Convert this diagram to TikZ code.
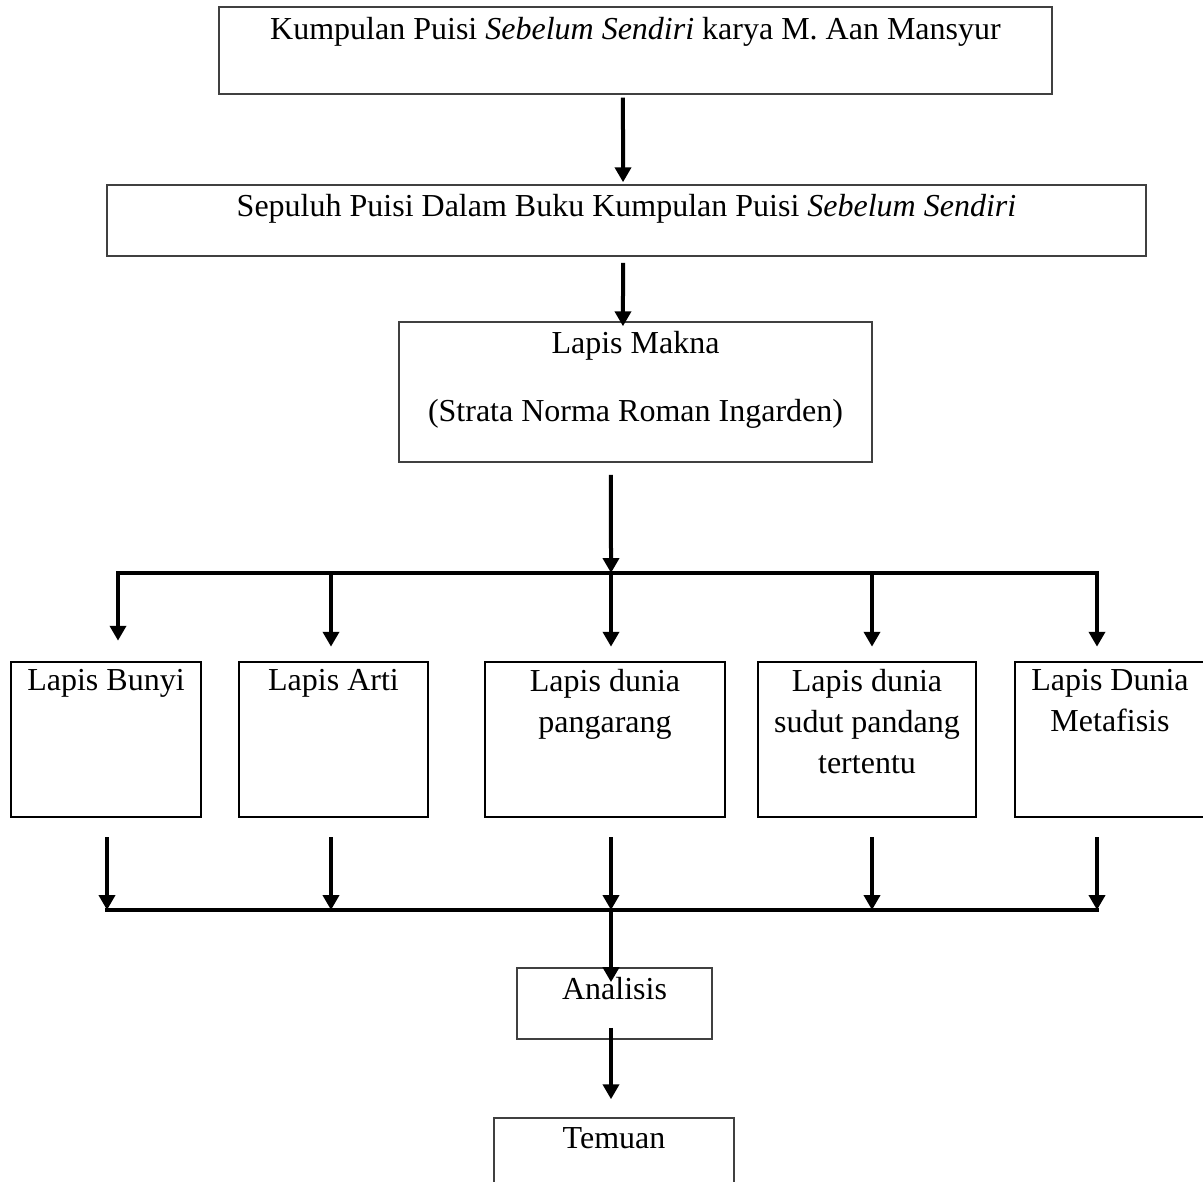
\documentclass[tikz,border=0pt]{standalone}
\usepackage{fontspec}
\setmainfont{Liberation Serif}
\usepackage{tikz}
\usetikzlibrary{arrows.meta,positioning}
\tikzstyle{box}=[rectangle,draw=black!75,line width=0.6pt,inner sep=0pt]
\tikzstyle{layer}=[rectangle,draw=black,line width=1pt,inner sep=0pt]
\tikzstyle{txt}=[inner sep=0pt,align=center,font=\fontsize{12pt}{15.4pt}\selectfont]
\tikzstyle{arr}=[->,line width=1.5pt]
\tikzstyle{bus}=[line width=1.5pt,line cap=rect]

\begin{document}
\begin{tikzpicture}[x=0.375pt,y=-0.375pt,>={Triangle[width=6pt,length=5.6pt]}]
    \useasboundingbox (0,0) rectangle (1203,1182);

    \node[box, minimum width=312.4pt, minimum height=32.6pt] (A) at (635.5,50.5) {};
    \node[box, minimum width=389.6pt, minimum height=26.6pt] (B) at (626.5,220.5) {};
    \node[box, minimum width=177.4pt, minimum height=52.5pt] (C) at (635.5,392) {};
    \node[layer, minimum width=71.25pt, minimum height=58.1pt] (D1) at (106,739.5) {};
    \node[layer, minimum width=70.9pt, minimum height=58.1pt] (D2) at (333.5,739.5) {};
    \node[layer, minimum width=90pt, minimum height=58.1pt] (D3) at (605,739.5) {};
    \node[layer, minimum width=81.75pt, minimum height=58.1pt] (D4) at (867,739.5) {};
    \node[layer, minimum width=71.25pt, minimum height=58.1pt] (D5) at (1110,739.5) {};
    \node[box, minimum width=73.1pt, minimum height=26.6pt] (E) at (614.5,1003.5) {};
    \node[box, minimum width=90pt, minimum height=26.6pt] (F) at (614,1153.5) {};

    \node[txt] (tA) [below=4.1pt of A.north] {Kumpulan Puisi \textit{Sebelum Sendiri} karya M. Aan Mansyur};
    \node[txt] (tB) [below=3.75pt of B.north] {Sepuluh Puisi Dalam Buku Kumpulan Puisi \textit{Sebelum Sendiri}};
    \node[txt] (tC) [below=3.75pt of C.north] {Lapis Makna\\[10.1pt](Strata Norma Roman Ingarden)};
    \node[txt] (tD1) [below=3pt of D1.north] {Lapis Bunyi};
    \node[txt] (tD2) [below=3pt of D2.north] {Lapis Arti};
    \node[txt] (tD3) [below=3pt of D3.north] {Lapis dunia\\pangarang};
    \node[txt] (tD4) [below=3pt of D4.north] {Lapis dunia\\sudut pandang\\tertentu};
    \node[txt] (tD5) [below=3pt of D5.north] {Lapis Dunia\\Metafisis};
    \node[txt] (tE) [below=3.75pt of E.north] {Analisis};
    \node[txt] (tF) [below=3.75pt of F.north] {Temuan};

    \coordinate (t1) at (118,573);
    \coordinate (t2) at (331,573);
    \coordinate (t3) at (611,573);
    \coordinate (t4) at (872,573);
    \coordinate (t5) at (1097,573);
    \coordinate (b1) at (107,910);
    \coordinate (b2) at (331,910);
    \coordinate (b3) at (611,910);
    \coordinate (b4) at (872,910);
    \coordinate (b5) at (1097,910);

    \draw[arr, shorten <=1.1pt, shorten >=0.75pt] ([xshift=-4.7pt]A.south) -- ([xshift=-1.3pt]B.north);
    \draw[arr, shorten <=2.25pt, shorten >=-1.9pt] ([xshift=-1.3pt]B.south) -- ([xshift=-4.7pt]C.north);
    \draw[arr, shorten <=4.5pt] ([xshift=-9.2pt]C.south) -- (t3);

    \draw[bus] (t1) -- (t5);
    \draw[arr, shorten >=7.5pt] (t1) -- (t1 |- D1.north);
    \foreach \i in {2,...,5}
        \draw[arr, shorten >=5.25pt] (t\i) -- (t\i |- D\i.north);

    \draw[bus] (b1) -- (b5);
    \foreach \i in {1,...,5}
        \draw[arr, shorten <=7.1pt] (D\i.south -| b\i) -- (b\i);

    \draw[arr, shorten >=-5.6pt] (b3) -- (E.north -| b3);
    \draw[arr, shorten <=-4.5pt, shorten >=6.75pt] (E.south -| b3) -- (F.north -| b3);
\end{tikzpicture}
\end{document}
